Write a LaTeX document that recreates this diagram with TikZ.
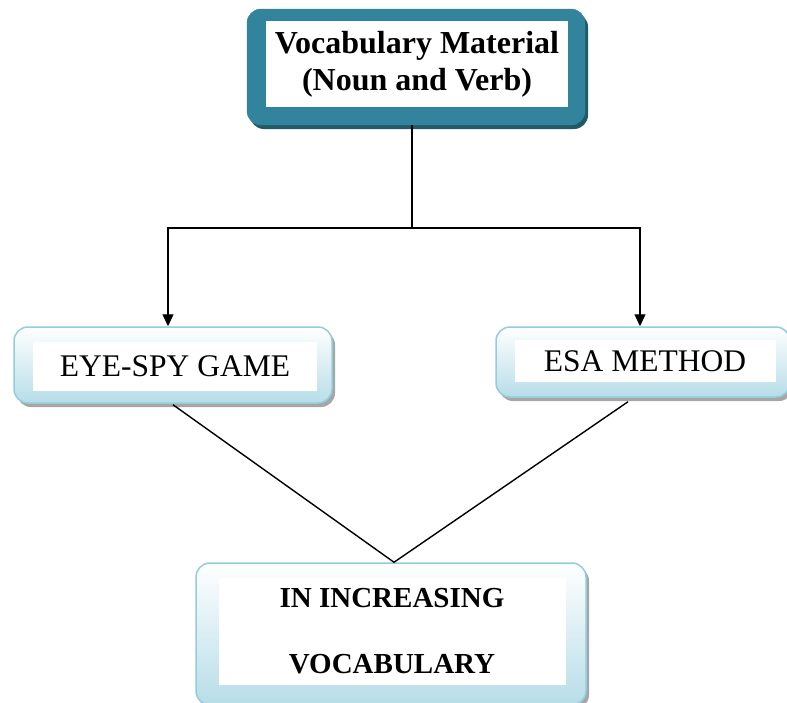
\documentclass[tikz,border=0pt]{standalone}
\usepackage{fontspec}
\setmainfont{Liberation Serif}
\usetikzlibrary{arrows,arrows.meta,positioning,shadows}

\definecolor{tealbox}{HTML}{31849B}
\definecolor{tealshade}{HTML}{215968}
\definecolor{paleblue}{HTML}{B7DDE8}
\definecolor{edgeblue}{HTML}{92CDDC}

\begin{document}
\begin{tikzpicture}[x=1pt,y=-1pt,
    headbox/.style={rounded corners=14pt, fill=tealbox, draw=tealbox,
      drop shadow={shadow xshift=3pt, shadow yshift=-4pt, fill=tealshade, opacity=1},
      inner sep=0pt},
    methodbox/.style={rounded corners=14pt, draw=edgeblue, line width=1.5pt,
      top color=white, bottom color=paleblue,
      drop shadow={shadow xshift=3pt, shadow yshift=-4pt, fill=gray!70, opacity=1},
      inner sep=0pt},
    whitebox/.style={fill=white, inner sep=0pt, align=center},
    link/.style={line width=1.4pt},
    arrowlink/.style={line width=1.4pt, -{Triangle[length=12pt,width=11pt]}}]

  \useasboundingbox (0,0) rectangle (787,702);

  \def\splity{228} % level of the fork

  % top box
  \node (top) at (416,67) [headbox, minimum width=338pt, minimum height=116pt] {};
  \node (toptxt) at (417,64) [whitebox, minimum width=302pt, minimum height=86pt,
    font=\fontsize{32}{37}\selectfont\bfseries]
    {Vocabulary Material\\ (Noun and Verb)};

  % the two methods
  \node (eye) at (173,365) [methodbox, minimum width=318pt, minimum height=76pt] {};
  \node (eyetxt) at (175,366) [whitebox, minimum width=284pt, minimum height=49pt,
    font=\fontsize{31.5}{36}\selectfont]
    {EYE-SPY GAME};

  \node (esa) at (643,362) [methodbox, minimum width=294pt, minimum height=70pt] {};
  \node (esatxt) at (645,361) [whitebox, minimum width=261pt, minimum height=42pt,
    font=\fontsize{31.5}{36}\selectfont]
    {ESA METHOD};

  % result box
  \node (res) at (391,634) [methodbox, minimum width=390pt, minimum height=142pt] {};
  \node (restxt) at (392,631) [whitebox, minimum width=347pt, minimum height=107pt,
    font=\fontsize{29}{66}\selectfont\bfseries]
    {IN INCREASING\\ VOCABULARY};

  % connectors
  \coordinate (split) at ([xshift=-4pt]top.south |- 0,\splity);
  \draw[link] ([xshift=-4pt]top.south) -- (split);
  \draw[arrowlink] (split) -| ([xshift=-5pt]eye.north);
  \draw[arrowlink] (split) -| ([xshift=-3pt]esa.north);

  \draw[link] ([yshift=-1pt]eye.south) -- ([xshift=3pt]res.north);
  \draw[link] ([xshift=-15pt,yshift=-4pt]esa.south) -- ([xshift=3pt]res.north);

\end{tikzpicture}
\end{document}
